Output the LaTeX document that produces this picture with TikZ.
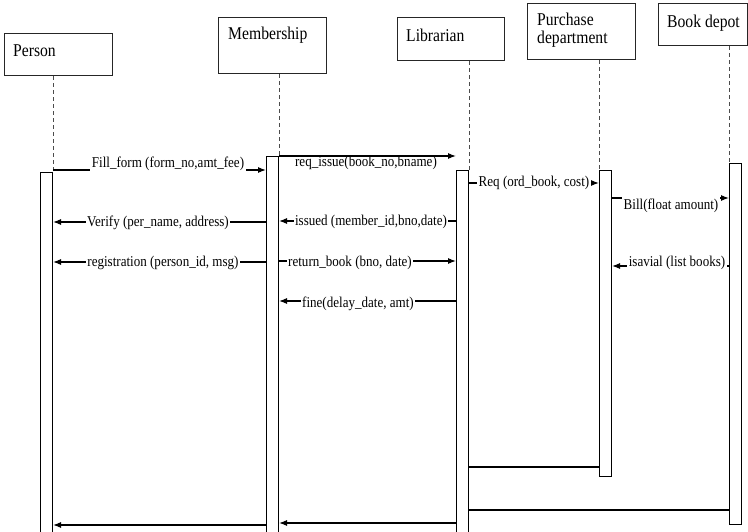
\documentclass[tikz,border=0pt]{standalone}
\usepackage{fontspec}
\setmainfont[FakeStretch=0.87]{Liberation Serif}
\usetikzlibrary{arrows.meta}
\begin{document}
\begin{tikzpicture}[x=1pt,y=-1pt,
 objbox/.style={draw=black!85, line width=1.2pt, anchor=north west, inner sep=0pt, fill=white},
 boxtxt/.style={font=\fontsize{18}{18}\selectfont, anchor=base west, inner sep=0pt},
 life/.style={draw=black!70, line width=1pt, dash pattern=on 4pt off 3pt},
 actbar/.style={draw=black, line width=1pt, fill=white, minimum width=12pt, anchor=north west, inner sep=0pt},
 msg/.style={draw=black, line width=1.1pt, -{Latex[length=8pt,width=6pt]}},
 plainln/.style={draw=black, line width=1.1pt},
 lbl/.style={font=\fontsize{15}{16}\selectfont, anchor=base, inner sep=1.5pt, fill=white},
 lblnf/.style={lbl, fill=none}]
\useasboundingbox (0,0) rectangle (748,532);
\fill[white] (0,0) rectangle (748,532);
\clip (0,0) rectangle (748,532);

% object boxes
\node[objbox, minimum width=108pt, minimum height=42pt] (person) at (4,33) {};
\node[objbox, minimum width=108pt, minimum height=56pt] (member) at (218,17) {};
\node[objbox, minimum width=107pt, minimum height=43pt] (libr) at (397,17) {};
\node[objbox, minimum width=108pt, minimum height=56pt] (purch) at (527,3) {};
\node[objbox, minimum width=89pt, minimum height=42pt] (depot) at (658,3) {};

\node[boxtxt] (personT) at (13,57) {Person};
\node[boxtxt] (memberT) at (228,40) {Membership};
\node[boxtxt] (librT) at (406,42) {Librarian};
\node[boxtxt, anchor=north west, align=left] (purchT) at (537,13) {Purchase\\department};
\node[boxtxt] (depotT) at (667,28) {Book depot};

% activation bars
\node[actbar, minimum height=370pt] (pbar) at (40,172) {};
\node[actbar, minimum height=385pt] (mbar) at (266,156) {};
\node[actbar, minimum height=370pt] (lbar) at (456,170) {};
\node[actbar, minimum height=306pt] (dbar) at (599,170) {};
\node[actbar, minimum height=361pt] (bbar) at (729,163) {};

% lifelines
\draw[life] (person.south -| pbar.north east) -- (pbar.north east);
\draw[life] (member.south -| mbar.north east) -- (mbar.north east);
\draw[life] (libr.south -| lbar.north east) -- (lbar.north east);
\draw[life] (purch.south -| dbar.north west) -- (dbar.north west);
\draw[life] (depot.south -| bbar.north west) -- (bbar.north west);

% messages
\draw[msg] (pbar.east |- 0,170) -- (mbar.west |- 0,170);
\node[lbl] (m1) at (168,168) {Fill\_form (form\_no,amt\_fee)};

\draw[msg] (mbar.north east) -- (lbar.west |- mbar.north east);
\node[lblnf] (m2) at (366,167) {req\_issue(book\_no,bname)};

\draw[msg] (lbar.east |- 0,183) -- (dbar.west |- 0,183);
\node[lbl] (m3) at (534,187) {Req (ord\_book, cost)};

\draw[msg] (dbar.east |- 0,198) -- (bbar.west |- 0,198);
\node[lbl] (m4) at (671,209.5) {Bill(float amount)};

\draw[msg] (lbar.west |- 0,221) -- (mbar.east |- 0,221);
\node[lbl] (m5) at (371,226) {issued (member\_id,bno,date)};

\draw[msg] (mbar.west |- 0,222) -- (pbar.east |- 0,222);
\node[lbl] (m6) at (158,227) {Verify (per\_name, address)};

\draw[msg] (mbar.east |- 0,261) -- (lbar.west |- 0,261);
\node[lbl] (m7) at (350,267) {return\_book (bno, date)};

\draw[msg] (mbar.west |- 0,262) -- (pbar.east |- 0,262);
\node[lbl] (m8) at (163,267) {registration (person\_id, msg)};

\draw[msg] (bbar.west |- 0,266) -- (dbar.east |- 0,266);
\node[lbl] (m9) at (677,266) {isavial (list books)};

\draw[msg] (lbar.west |- 0,301) -- (mbar.east |- 0,301);
\node[lbl] (m10) at (358,307) {fine(delay\_date, amt)};

% returns at the bottom
\draw[plainln] (lbar.east |- 0,467) -- (dbar.west |- 0,467);
\draw[plainln] (lbar.east |- 0,510) -- (bbar.west |- 0,510);
\draw[msg] (lbar.west |- 0,523) -- (mbar.east |- 0,523);
\draw[msg] (mbar.west |- 0,525) -- (pbar.east |- 0,525);
\end{tikzpicture}
\end{document}
